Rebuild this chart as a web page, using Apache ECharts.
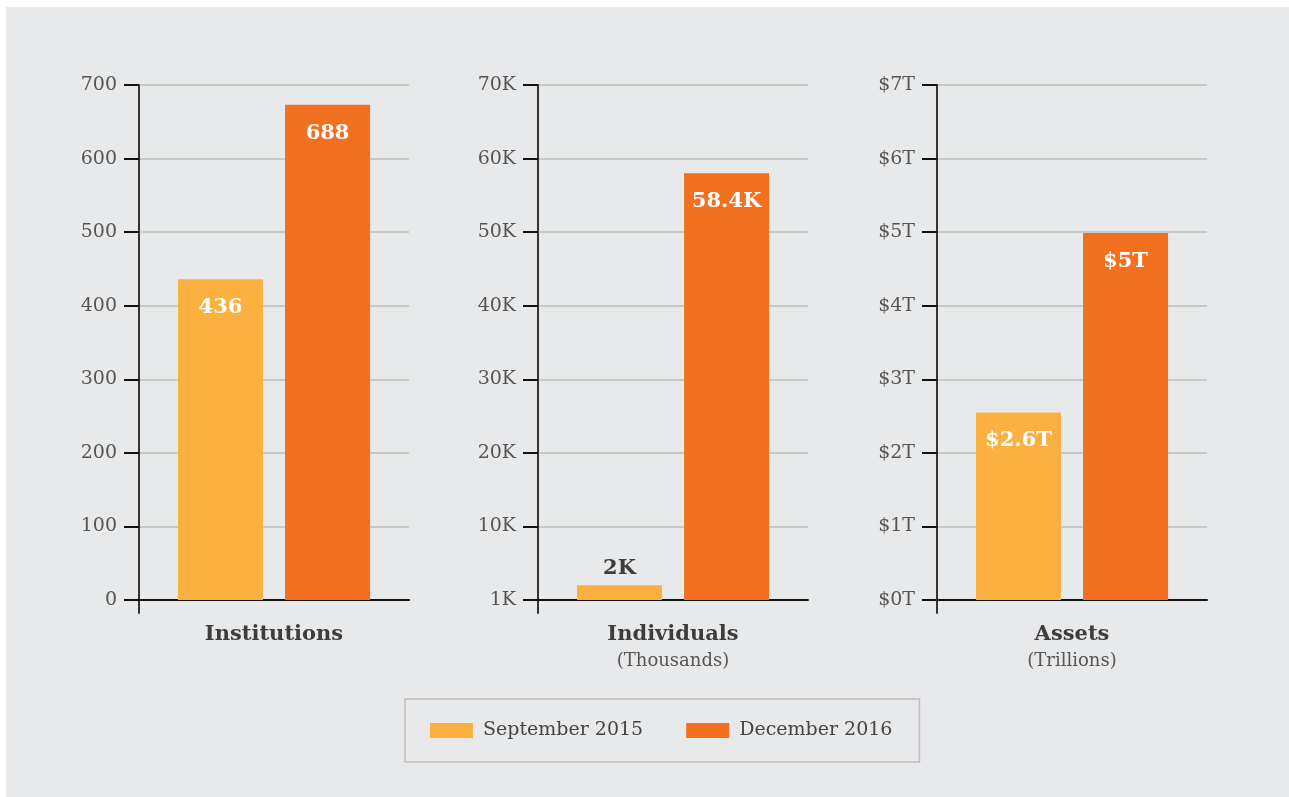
<!DOCTYPE html>
<html>
<head>
<meta charset="utf-8">
<script src="https://cdn.jsdelivr.net/npm/echarts@6/dist/echarts.min.js"></script>
<style>
  html, body { margin: 0; padding: 0; background: #ffffff; }
  #chart { position: absolute; left: 6px; top: 7px; width: 1283px; height: 790px; background: #e8e9eb; }
</style>
</head>
<body>
<div id="chart"></div>
<script>
// data
const categories = ['Institutions', 'Individuals', 'Assets']
const subTitles = ['', '(Thousands)', '(Trillions)']
const seriesNames = ['September 2015', 'December 2016']

const institutions = [436, 673]
const individuals = [2000, 58000]
const assets = [2.55, 4.99]

const institutionsText = ['436', '688']
const individualsText = ['2K', '58.4K']
const assetsText = ['$2.6T', '$5T']

const institutionsTicks = ['0', '100', '200', '300', '400', '500', '600', '700']
const individualsTicks = ['1K', '10K', '20K', '30K', '40K', '50K', '60K', '70K']
const assetsTicks = ['$0T', '$1T', '$2T', '$3T', '$4T', '$5T', '$6T', '$7T']

const axisMax = [700, 70000, 7]
const axisStep = [100, 10000, 1]

const colors = ['#fcb040', '#f37021']
const slab = '"DejaVu Serif", serif'
const dark = '#3d3d3d'

const panels = [
  { values: institutions, text: institutionsText, ticks: institutionsTicks },
  { values: individuals, text: individualsText, ticks: individualsTicks },
  { values: assets, text: assetsText, ticks: assetsTicks }
]

const lefts = [133, 532, 931]
const grid = []
const xAxis = []
const yAxis = []
const series = []

panels.forEach((p, k) => {
  grid.push({ left: lefts[k], top: 78, width: 270, height: 515 })
  xAxis.push({
    type: 'category',
    gridIndex: k,
    data: [categories[k]],
    axisLine: { lineStyle: { color: '#111', width: 2 } },
    axisTick: { show: false },
    axisLabel: {
      margin: 21,
      formatter: function (v) {
        return subTitles[k] ? '{b|' + v + '}\n{s|' + subTitles[k] + '}' : '{b|' + v + '}'
      },
      rich: {
        b: { fontFamily: slab, fontWeight: 'bold', fontSize: 21, color: dark, lineHeight: 27 },
        s: { fontFamily: slab, fontSize: 18, color: '#555', lineHeight: 26 }
      }
    }
  })
  yAxis.push({
    type: 'value',
    gridIndex: k,
    min: 0,
    max: axisMax[k],
    interval: axisStep[k],
    axisLine: { show: true, lineStyle: { color: '#333', width: 2 } },
    axisTick: { show: true, length: 15, lineStyle: { color: '#111', width: 2 } },
    splitLine: { lineStyle: { color: '#bdbdbd', width: 1.5 } },
    axisLabel: {
      margin: 22,
      fontFamily: slab,
      fontSize: 19,
      color: '#555',
      formatter: function (v, i) { return p.ticks[i] }
    }
  })
  seriesNames.forEach((name, j) => {
    const small = p.values[j] / axisMax[k] < 0.1
    series.push({
      name: name,
      type: 'bar',
      xAxisIndex: k,
      yAxisIndex: k,
      barWidth: 85,
      barGap: '26%',
      itemStyle: { color: colors[j] },
      label: {
        show: true,
        position: small ? 'top' : 'insideTop',
        distance: small ? 6 : 18,
        fontFamily: slab,
        fontWeight: 'bold',
        fontSize: 21,
        color: small ? dark : '#ffffff',
        formatter: function () { return p.text[j] }
      },
      data: [p.values[j]]
    })
  })
})

// short stub of the y axis below the x axis line
lefts.forEach((l, k) => {
  grid.push({ left: l, top: 593, width: 10, height: 13 })
  xAxis.push({ type: 'value', gridIndex: 3 + k, show: false })
  yAxis.push({
    type: 'value',
    gridIndex: 3 + k,
    axisLine: { show: true, lineStyle: { color: '#333', width: 2 } },
    axisTick: { show: false },
    axisLabel: { show: false },
    splitLine: { show: false }
  })
})

const option = {
  animation: false,
  color: colors,
  legend: {
    data: seriesNames,
    left: 399,
    top: 692,
    orient: 'horizontal',
    padding: [22, 27, 22, 25],
    itemGap: 43,
    itemWidth: 43,
    itemHeight: 15,
    icon: 'rect',
    borderColor: '#bfbfbf',
    borderWidth: 1.5,
    textStyle: { fontFamily: slab, fontSize: 19, color: '#444', padding: [0, 0, 0, 5] }
  },
  grid: grid,
  xAxis: xAxis,
  yAxis: yAxis,
  series: series
}

const chart = echarts.init(document.getElementById('chart'))
chart.setOption(option)
window.addEventListener('resize', () => chart.resize())
</script>
</body>
</html>
